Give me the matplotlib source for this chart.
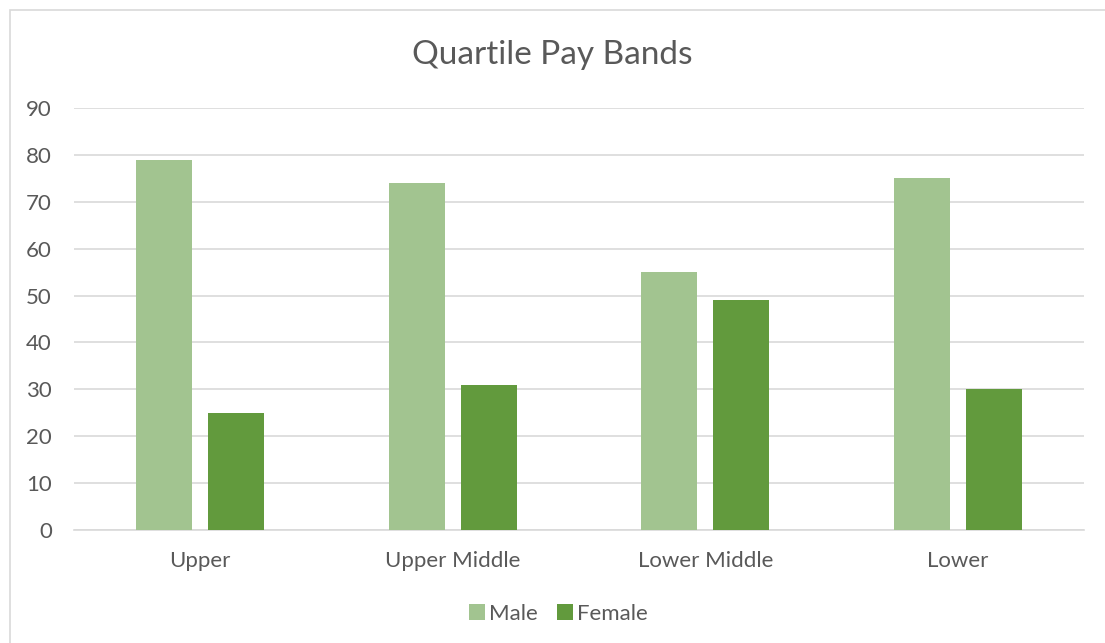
import matplotlib.pyplot as plt
import numpy as np
from matplotlib.patches import Rectangle

# Chart data
categories = ['Upper', 'Upper Middle', 'Lower Middle', 'Lower']
male = [79, 74, 55, 75]
female = [25, 31, 49, 30]
y_ticks = [0, 10, 20, 30, 40, 50, 60, 70, 80, 90]

male_color = '#A2C490'
female_color = '#629A3D'
text_color = '#595959'
grid_color = '#D9D9D9'

plt.rcParams['font.family'] = ['Lato', 'DejaVu Sans']

fig = plt.figure(figsize=(11.05, 6.43), dpi=100)
W, H = 1105, 643

# Chart frame (left and top edges visible)
fig.add_artist(Rectangle((9.5 / W, -0.1), 1.2, 1 - 10 / H + 0.1, transform=fig.transFigure,
                         fill=False, edgecolor='#D9D9D9', linewidth=1.2))

ax = fig.add_axes([74 / W, 1 - 530 / H, (1084 - 74) / W, (530 - 108) / H])

x = np.arange(len(categories))
width = 0.222
offset = 0.1426
ax.bar(x - offset, male, width, color=male_color, label='Male', zorder=3)
ax.bar(x + offset, female, width, color=female_color, label='Female', zorder=3)

ax.set_xlim(-0.5, len(categories) - 0.5)
ax.set_ylim(0, 90)
ax.set_yticks(y_ticks)
ax.set_xticks(x)
ax.set_xticklabels(categories)
ax.grid(axis='y', color=grid_color, linewidth=1.2, zorder=0)
ax.tick_params(axis='both', length=0, labelsize=16, colors=text_color)
ax.tick_params(axis='y', pad=16)
ax.tick_params(axis='x', pad=15)
for s in ['top', 'right', 'left']:
    ax.spines[s].set_visible(False)
ax.spines['bottom'].set_color(grid_color)
ax.spines['bottom'].set_linewidth(1.2)

fig.text(0.5, 1 - 55 / H, 'Quartile Pay Bands', ha='center', va='center',
         fontsize=24, color=text_color)

fig.legend(loc='center', bbox_to_anchor=(0.5 + 6 / W, 1 - 614 / H), ncol=2, frameon=False,
           fontsize=16, labelcolor=text_color, handlelength=0.7, handleheight=0.7,
           handletextpad=0.2, columnspacing=0.85)

fig.savefig('out.png', dpi=100, facecolor='white')
